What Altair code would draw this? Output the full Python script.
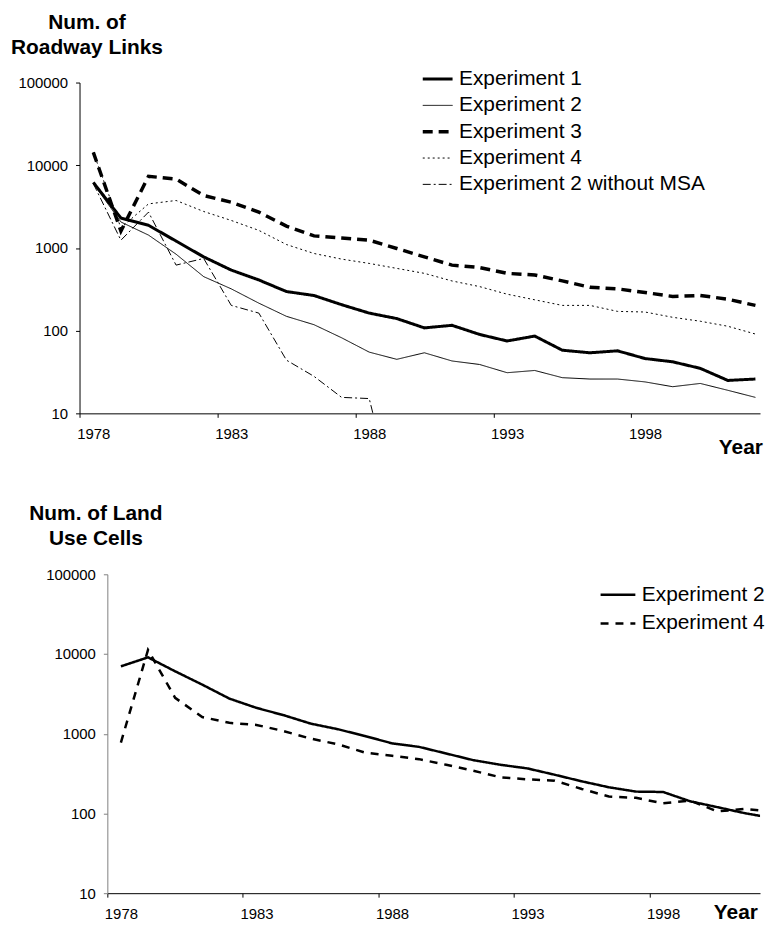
import altair as alt
import pandas as pd

FONT = "Liberation Sans"

years = list(range(1978, 2003))

# --- Top panel: number of roadway links ---
exp1 = [6200, 2300, 1880, 1210, 780, 540, 410, 297, 266, 206, 163, 140, 108, 116, 90, 75, 86, 58, 54, 57, 46, 42, 35, 25, 26]
exp2 = [6000, 2060, 1430, 840, 450, 320, 215, 149, 118, 82, 55, 45, 54, 43, 39, 31, 33, 27, 26, 26, 24, 21, 23, 19, 15.6]
exp3 = [14300, 1600, 7350, 6800, 4300, 3570, 2710, 1840, 1400, 1320, 1240, 985, 780, 620, 580, 493, 471, 400, 335, 320, 289, 259, 266, 240, 202]
exp4 = [14300, 1750, 3410, 3750, 2760, 2150, 1630, 1100, 857, 733, 650, 566, 493, 399, 341, 276, 236, 202, 202, 171, 168, 145, 130, 113, 91]
exp2_no_msa = [6000, 1240, 2710, 620, 747, 202, 163, 44, 28, 15.6, 15.1, 0.7] + [None] * 13

top_names = ["Experiment 1", "Experiment 2", "Experiment 3", "Experiment 4", "Experiment 2 without MSA"]
top_values = [exp1, exp2, exp3, exp4, exp2_no_msa]

# --- Bottom panel: number of land use cells ---
lu_exp2 = [7000, 9080, 6070, 4130, 2760, 2110, 1710, 1340, 1140, 937, 758, 684, 565, 466, 408, 367, 306, 253, 213, 188, 186, 142, 120, 101, 88]
lu_exp4 = [775, 11280, 2820, 1620, 1370, 1290, 1080, 869, 738, 581, 529, 480, 408, 344, 284, 268, 258, 203, 163, 157, 134, 145, 106, 114, 106]

bottom_names = ["Experiment 2", "Experiment 4"]
bottom_values = [lu_exp2, lu_exp4]

y_ticks = [10, 100, 1000, 10000, 100000]
x_tick_bounds = [1977.5, 1982.5, 1987.5, 1992.5, 1997.5]


def long_table(names, values):
    rows = []
    for name, vals in zip(names, values):
        for yr, v in zip(years, vals):
            if v is not None:
                rows.append({"year": yr, "value": v, "series": name})
    return pd.DataFrame(rows)


df_top = long_table(top_names, top_values)
df_bot = long_table(bottom_names, bottom_values)

# pixels per year in each panel, and panel sizes
TOP_CAT, BOT_CAT = 27.77, 27.29
TOP_W, TOP_H = 685, 333
BOT_W, BOT_H = 657, 321
TOP_END = 1977.5 + TOP_W / TOP_CAT
BOT_END = 1977.5 + BOT_W / BOT_CAT


def x_axis(cat_px, title_x, title_y):
    return alt.Axis(
        values=x_tick_bounds,
        labelExpr="format(datum.value + 0.5, 'd')",
        labelOffset=cat_px / 2,
        labelFlush=False,
        labelOverlap=False,
        labelFontSize=15,
        labelFont=FONT,
        labelColor="black",
        labelPadding=9,
        tickSize=4,
        tickColor="black",
        domainColor="black",
        grid=False,
        title="Year",
        titleFont=FONT,
        titleFontSize=21,
        titleFontWeight="bold",
        titleColor="black",
        titleAngle=0,
        titleAlign="left",
        titleBaseline="top",
        titleX=title_x,
        titleY=title_y,
    )


def y_axis(title, title_x, title_y, min_extent, color):
    return alt.Axis(
        values=y_ticks,
        format="d",
        labelFlush=False,
        labelFontSize=15,
        labelFont=FONT,
        labelColor="black",
        labelPadding=8,
        tickSize=4,
        tickColor=color,
        domainColor=color,
        grid=False,
        minExtent=min_extent,
        maxExtent=300,
        title=title,
        titleFont=FONT,
        titleFontSize=21,
        titleFontWeight="bold",
        titleColor="black",
        titleAngle=0,
        titleAlign="center",
        titleBaseline="top",
        titleLineHeight=25,
        titleX=title_x,
        titleY=title_y,
    )


top_legend = alt.Legend(
    title=None,
    orient="none",
    legendX=350,
    legendY=-14,
    symbolType="stroke",
    symbolSize=900,
    symbolStrokeColor="black",
    symbolStrokeWidth=alt.ExprRef(
        expr="datum.value === 'Experiment 1' ? 3 : datum.value === 'Experiment 3' ? 3.5 : 1"
    ),
    labelFontSize=21,
    labelFont=FONT,
    labelColor="black",
    labelOffset=11,
    labelLimit=0,
    rowPadding=4.5,
    padding=0,
)

top = (
    alt.Chart(df_top)
    .mark_line(clip=True, color="black", strokeCap="butt")
    .encode(
        x=alt.X("year:Q", scale=alt.Scale(domain=[1977.5, TOP_END], nice=False, zero=False),
                axis=x_axis(TOP_CAT, 643, 23.4)),
        y=alt.Y("value:Q", scale=alt.Scale(type="log", domain=[10, 100000], nice=False),
                axis=y_axis(["Num. of", "Roadway Links"], 7, -71.5, 72, "black")),
        strokeDash=alt.StrokeDash(
            "series:N",
            scale=alt.Scale(domain=top_names, range=[[1, 0], [1, 0], [10, 6], [2, 3], [8, 3, 2, 3]]),
            legend=top_legend,
        ),
        strokeWidth=alt.when(alt.datum.series == "Experiment 1").then(alt.value(3))
        .when(alt.datum.series == "Experiment 3").then(alt.value(3.5))
        .otherwise(alt.value(1)),
        order=alt.Order("year:Q"),
    )
    .properties(width=TOP_W, height=TOP_H)
)

bottom_legend = alt.Legend(
    title=None,
    orient="none",
    legendX=523,
    legendY=1.5,
    symbolType="stroke",
    symbolSize=1225,
    symbolStrokeColor="black",
    symbolStrokeWidth=2.5,
    labelFontSize=21,
    labelFont=FONT,
    labelColor="black",
    labelOffset=5,
    labelLimit=0,
    rowPadding=-8,
    padding=0,
)

bottom = (
    alt.Chart(df_bot)
    .mark_line(clip=True, color="black", strokeWidth=2.5, strokeCap="butt")
    .encode(
        x=alt.X("year:Q", scale=alt.Scale(domain=[1977.5, BOT_END], nice=False, zero=False),
                axis=x_axis(BOT_CAT, 610, 8.6)),
        y=alt.Y("value:Q", scale=alt.Scale(type="log", domain=[10, 100000], nice=False),
                axis=y_axis(["Num. of Land", "Use Cells"], -12, -72.3, 0, "#808080")),
        strokeDash=alt.StrokeDash(
            "series:N",
            scale=alt.Scale(domain=bottom_names, range=[[1, 0], [8, 7]]),
            legend=bottom_legend,
        ),
        order=alt.Order("year:Q"),
    )
    .properties(width=BOT_W, height=BOT_H)
)

# invisible spacer that shifts the lower panel to the right
spacer = (
    alt.Chart(pd.DataFrame({"s": [0]}))
    .mark_point(opacity=0)
    .properties(width=28, height=1)
)

bottom_row = alt.hconcat(spacer, bottom, spacing=0, bounds="flush")

chart = (
    alt.vconcat(top, bottom_row, spacing=44)
    .resolve_scale(x="independent", y="independent", strokeDash="independent")
    .resolve_legend(strokeDash="independent")
    .properties(padding={"left": 0, "top": 0, "right": 0, "bottom": 0}, background="white")
    .configure_view(stroke=None)
)

chart.save("out.html", embed_options={"renderer": "svg", "actions": False})
